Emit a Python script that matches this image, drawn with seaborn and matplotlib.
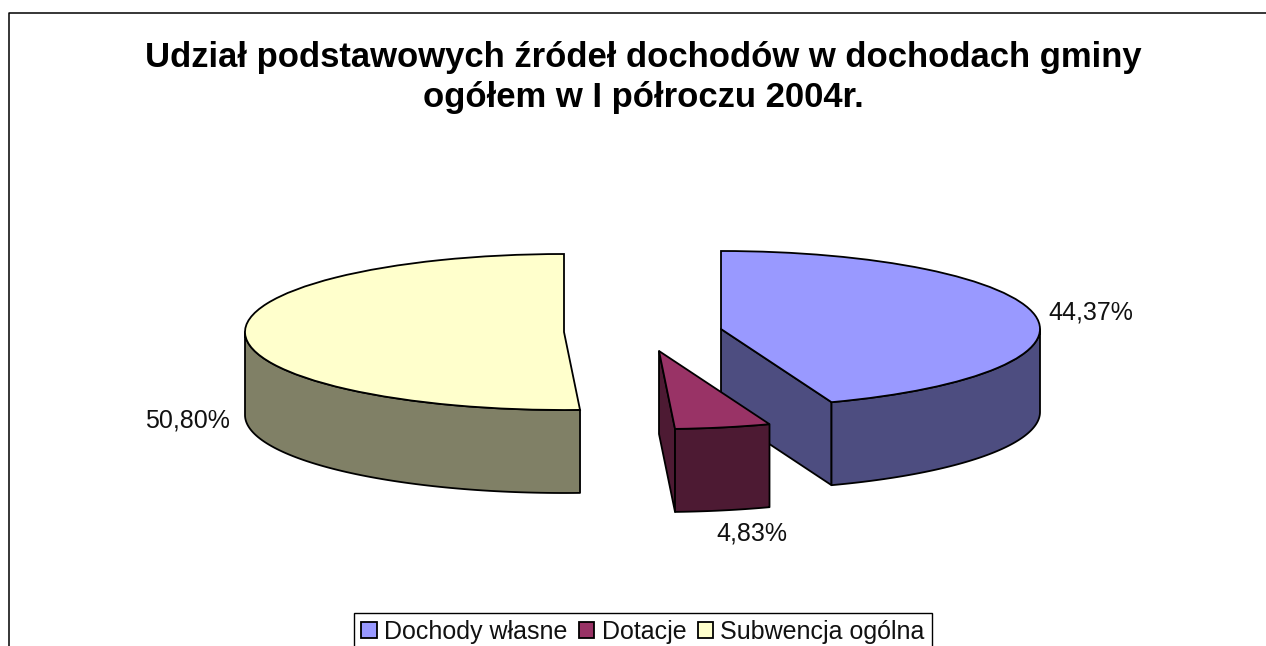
import numpy as np
import matplotlib
matplotlib.use("Agg")
import matplotlib.pyplot as plt
from matplotlib.lines import Line2D
import seaborn as sns

# Data
categories = ["Dochody własne", "Dotacje", "Subwencja ogólna"]
shares = [44.37, 4.83, 50.80]
title_text = "Udział podstawowych źródeł dochodów w dochodach gminy\nogółem w I półroczu 2004r."

# Style / layout (pixels of the 1266x646 canvas)
top_colors = ["#9999FF", "#993366", "#FFFFCC"]
side_colors = ["#4D4D80", "#4D1A33", "#808066"]
W, H = 1266, 646
RX, RY, DEPTH = 319.0, 78.0, 83.0
centers_px = [(721, 329), (659, 351), (564, 332)]
label_px = [(1091, 312.5), (752, 534), (187, 420)]
LW = 1.3

sns.set_theme(style="white")
plt.rcParams["font.family"] = ["Liberation Sans", "DejaVu Sans"]

fig = plt.figure(figsize=(W / 100, H / 100), dpi=100, facecolor="white")
ax = fig.add_axes([0, 0, 1, 1])


def to_data(px, py):
    return px / RX, -py / RY


wedges, _ = ax.pie(shares, colors=top_colors, startangle=90, counterclock=False,
                   radius=1.0, wedgeprops=dict(edgecolor="black", linewidth=LW))
ax.set_aspect("auto")
ax.set_xlim(0, W / RX)
ax.set_ylim(-H / RY, 0)
ax.set_axis_off()

# Slice boundaries, clockwise from 12 o'clock
edges = np.concatenate([[0], np.cumsum(shares)]) / np.sum(shares) * 360.0
d = DEPTH / RY


def rim(c, a, b, n=80):
    t = np.radians(np.linspace(a, b, n))
    return c[0] + np.sin(t), c[1] + np.cos(t)


def outer_side(c, a, b, color, z):
    x, y = rim(c, a, b)
    ax.fill(np.r_[x, x[::-1]], np.r_[y, y[::-1] - d], facecolor=color,
            edgecolor="black", linewidth=LW, zorder=z, joinstyle="round")


def radial_face(c, ang, color, z):
    x, y = rim(c, ang, ang, 1)
    ax.fill([c[0], x[0], x[0], c[0]], [c[1], y[0], y[0] - d, c[1] - d],
            facecolor=color, edgecolor="black", linewidth=LW, zorder=z,
            joinstyle="round")


centers = [to_data(*p) for p in centers_px]

# Subwencja
outer_side(centers[2], edges[2], 270, side_colors[2], 1)
wedges[2].set_center(centers[2])
wedges[2].set_zorder(2)
# Dochody własne
radial_face(centers[0], edges[1], side_colors[0], 3)
outer_side(centers[0], 90, edges[1], side_colors[0], 3)
wedges[0].set_center(centers[0])
wedges[0].set_zorder(4)
# Dotacje
radial_face(centers[1], edges[2], side_colors[1], 5)
outer_side(centers[1], edges[1], edges[2], side_colors[1], 5)
wedges[1].set_center(centers[1])
wedges[1].set_zorder(6)

# Value labels
for v, (px, py) in zip(shares, label_px):
    x, y = to_data(px, py)
    ax.text(x, y, f"{v:.2f}%".replace(".", ","), ha="center", va="center",
            fontsize=18, color="#111111", zorder=8)

# Title
line1, line2 = title_text.split("\n")
fig.text(643.5 / W, 1 - 58 / H, line1, ha="center", va="center",
         fontsize=24.9, fontweight="bold", color="black")
fig.text(643.5 / W, 1 - 98 / H, line2, ha="center", va="center",
         fontsize=24.9, fontweight="bold", color="black")

# Legend (runs off the bottom of the canvas)
leg = ax.legend(wedges, categories, ncol=3, loc="upper left",
                bbox_to_anchor=(354 / W, 1 - 613 / H), bbox_transform=fig.transFigure,
                borderaxespad=0, fontsize=18, fancybox=False, framealpha=1,
                edgecolor="black", handlelength=0.62, handleheight=0.62,
                handletextpad=0.3, columnspacing=0.45, borderpad=0.28,
                labelcolor="#111111")
leg.get_frame().set_linewidth(1.0)
leg.set_zorder(9)

# Chart-area border: left and top only are inside the crop
fig.add_artist(Line2D([8.5 / W, 8.5 / W, 1], [0, 1 - 12.5 / H, 1 - 12.5 / H],
                      transform=fig.transFigure, color="black", linewidth=1.1))

fig.savefig("out.png", dpi=100)
